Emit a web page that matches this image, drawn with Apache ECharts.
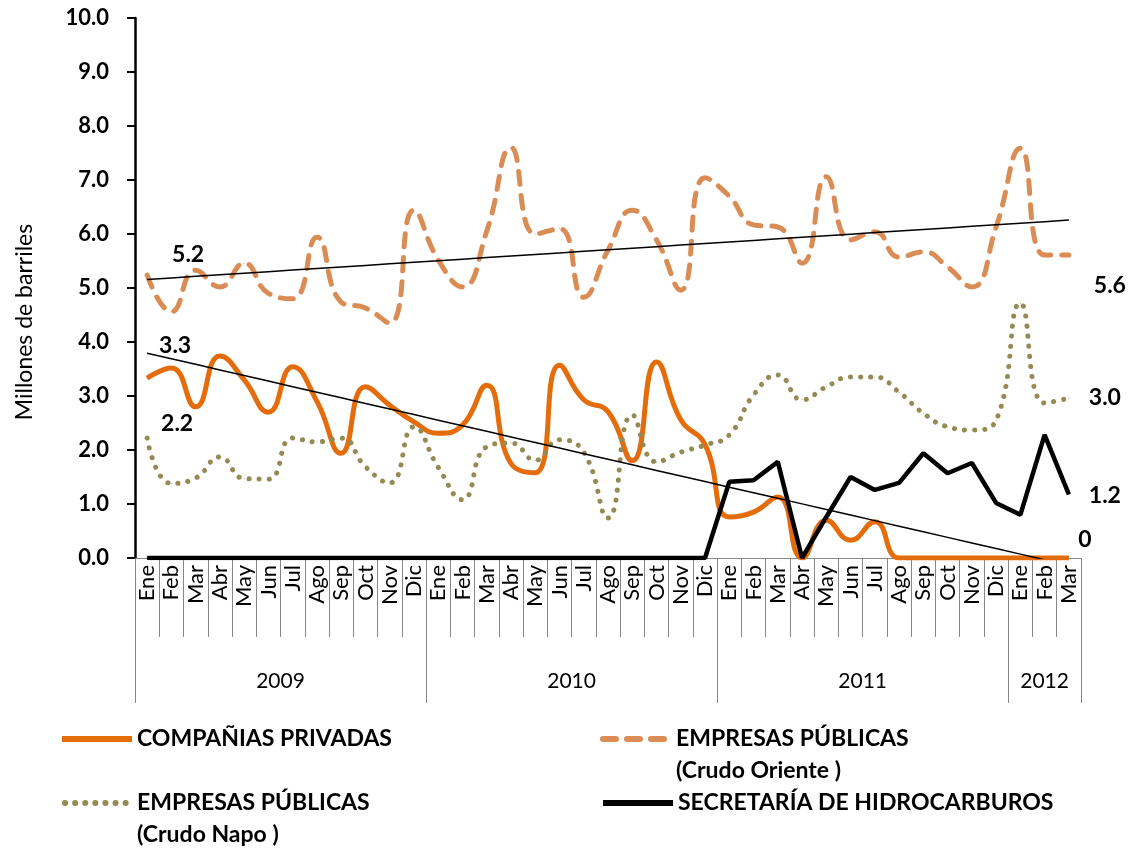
<!DOCTYPE html>
<html><head><meta charset="utf-8">
<script src="https://cdn.jsdelivr.net/npm/echarts@6/dist/echarts.min.js"></script>
<style>html,body{margin:0;padding:0;background:#fff}#c{width:1142px;height:848px}</style>
</head><body><div id="c"></div>
<script>
// ---- data ----
const monthNames = ['Ene','Feb','Mar','Abr','May','Jun','Jul','Ago','Sep','Oct','Nov','Dic'];
const years = ['2009','2010','2011','2012'];
const monthsPerYear = [12, 12, 12, 3];
const seriesNames = ['COMPAÑIAS PRIVADAS', 'EMPRESAS PÚBLICAS (Crudo Oriente )', 'EMPRESAS PÚBLICAS (Crudo Napo )', 'SECRETARÍA DE HIDROCARBUROS'];
const privadas = [3.33,3.52,2.80,3.74,3.30,2.70,3.54,2.90,1.94,3.17,2.83,2.52,
                  2.31,2.46,3.20,1.75,1.58,3.57,2.93,2.71,1.80,3.63,2.56,2.10,
                  0.76,0.85,1.13,0.00,0.70,0.33,0.67,0,0,0,0,0,
                  0,0,0];
const oriente = [5.24,4.56,5.33,5.02,5.46,4.90,4.80,5.94,4.74,4.63,4.35,6.44,
                 5.52,5.02,6.05,7.60,6.00,6.10,4.83,5.70,6.44,5.89,4.96,7.04,
                 6.70,6.17,6.13,5.46,7.06,5.89,6.04,5.57,5.67,5.39,5.02,6.13,
                 7.59,5.61,5.61];
const napo = [2.22,1.38,1.48,1.87,1.47,1.46,2.22,2.15,2.22,1.69,1.39,2.43,
              1.68,1.08,2.06,2.13,1.81,2.19,1.96,0.74,2.65,1.78,1.96,2.09,
              2.28,3.02,3.39,2.93,3.17,3.35,3.35,3.07,2.68,2.43,2.37,2.55,
              4.72,2.87,2.96];
const secretaria = [0,0,0,0,0,0,0,0,0,0,0,0,
                    0,0,0,0,0,0,0,0,0,0,0,0,
                    1.41,1.44,1.78,0,0.76,1.50,1.26,1.39,1.94,1.57,1.76,1.02,
                    0.80,2.28,1.18];
const yMin = 0, yMax = 10, yStep = 1;

// ---- derived ----
const categories = [];
monthsPerYear.forEach(n => { for (let i = 0; i < n; i++) categories.push(monthNames[i]); });
const total = categories.length;
const yearCenters = [];
let acc = 0;
const yearBounds = [0];
monthsPerYear.forEach(n => { yearCenters.push(acc + n / 2); acc += n; yearBounds.push(acc); });

function trend(vals) {
  const n = vals.length;
  let sx = 0, sy = 0, sxx = 0, sxy = 0;
  vals.forEach((v, i) => { sx += i; sy += v; sxx += i * i; sxy += i * v; });
  const b = (n * sxy - sx * sy) / (n * sxx - sx * sx);
  const a = (sy - b * sx) / n;
  return vals.map((_, i) => a + b * i);
}

const FONT = 'Lato, "Open Sans", sans-serif';
const labelStyle = { show: true, position: 'inside', color: '#000', fontWeight: 'bold', fontSize: 23, fontFamily: FONT,
  formatter: p => (p.value === 0 ? '0' : Number(p.value).toFixed(1)) };

function labelled(vals, firstOffset, lastOffset) {
  return vals.map((v, i) => {
    if (i === 0 && firstOffset) return { value: v, label: Object.assign({}, labelStyle, { offset: firstOffset }) };
    if (i === vals.length - 1 && lastOffset) return { value: v, label: Object.assign({}, labelStyle, { offset: lastOffset }) };
    return v;
  });
}

const colors = ['#E46C0A', '#DA8C55', '#948A54', '#000000'];
const lineStyles = [
  { width: 5 },
  { width: 5, type: [13, 11], cap: 'round' },
  { width: 5, type: [0.1, 10], cap: 'round' },
  { width: 4.5 }
];

function lineSeries(idx, data, smooth) {
  return {
    name: seriesNames[idx], type: 'line', data: data, smooth: smooth,
    symbol: 'circle', symbolSize: 1, showSymbol: true,
    itemStyle: { color: colors[idx] },
    lineStyle: Object.assign({ color: colors[idx] }, lineStyles[idx]),
    label: { show: false }, emphasis: { disabled: true }, animation: false
  };
}

const legendText = {
  fontFamily: FONT, fontWeight: 'bold', fontSize: 23, color: '#000', lineHeight: 32
};
function legendAt(idx, left, top, itemWidth) {
  return {
    data: [seriesNames[idx]], left: left, top: top, padding: 0, itemWidth: itemWidth, itemHeight: 14, itemGap: 0,
    selectedMode: false, itemStyle: { opacity: 0 },
    lineStyle: Object.assign({ color: colors[idx] }, lineStyles[idx], { width: 6 }),
    formatter: n => (n.indexOf(' (') >= 0 ? ' \n' + n.replace(' (', '\n(') : n),
    textStyle: legendText
  };
}

const chart = echarts.init(document.getElementById('c'), null, { renderer: 'canvas' });
chart.setOption({
  backgroundColor: '#fff',
  animation: false,
  grid: { left: 135, right: 61, top: 18, bottom: 290, containLabel: false },
  legend: [
    legendAt(0, 59, 723, 70),
    legendAt(1, 600, 691, 68),
    legendAt(2, 62, 755, 67),
    legendAt(3, 600, 787, 70)
  ],
  xAxis: [
    {
      type: 'category', data: categories, boundaryGap: true,
      axisLine: { show: true, lineStyle: { color: '#888', width: 1 } },
      axisTick: { show: true, length: 79, lineStyle: { color: '#888', width: 1 } },
      axisLabel: { rotate: 90, margin: 7, interval: 0, fontSize: 22, fontFamily: FONT, color: '#000' },
      splitLine: { show: false }
    },
    {
      type: 'value', min: 0, max: total, position: 'bottom',
      axisLine: { show: false },
      axisTick: { show: true, length: 145, customValues: yearBounds, lineStyle: { color: '#888', width: 1 } },
      axisLabel: { show: true, customValues: yearCenters, margin: 113, fontSize: 21, fontFamily: FONT, color: '#000',
        formatter: v => { const k = yearCenters.indexOf(v); return k >= 0 ? years[k] : ''; } },
      splitLine: { show: false }
    }
  ],
  yAxis: {
    type: 'value', min: yMin, max: yMax, interval: yStep,
    name: 'Millones de barriles', nameLocation: 'middle', nameGap: 99,
    nameTextStyle: { fontSize: 23, fontFamily: FONT, color: '#000', padding: [0, 68, 0, 0] },
    axisLine: { show: true, lineStyle: { color: '#000', width: 2.5 } },
    axisTick: { show: true, inside: false, length: 8, lineStyle: { color: '#000', width: 2 } },
    axisLabel: { margin: 26, fontSize: 22, fontWeight: 'bold', fontFamily: FONT, color: '#000',
      formatter: v => v.toFixed(1) },
    splitLine: { show: false }
  },
  series: [
    lineSeries(0, labelled(privadas, [28, -33], [16, -18]), true),
    lineSeries(1, labelled(oriente, [41, -20], [41, 31]), true),
    lineSeries(2, labelled(napo, [30, -15], [36, -1]), true),
    lineSeries(3, labelled(secretaria, null, [36, 1]), false),
    { type: 'line', data: trend(oriente), symbol: 'none', silent: true, lineStyle: { color: '#000', width: 1.5 }, clip: true, z: 5 },
    { type: 'line', data: trend(privadas), symbol: 'none', silent: true, lineStyle: { color: '#000', width: 1.5 }, clip: true, z: 5 }
  ]
});
</script></body></html>
